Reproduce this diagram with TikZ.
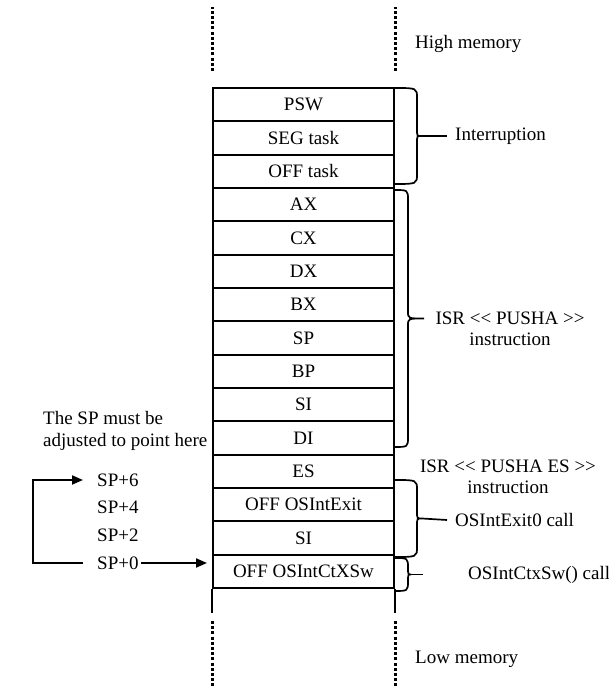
\documentclass[tikz,border=0pt]{standalone}
\usepackage{fontspec}
\setmainfont{Liberation Serif}
\usetikzlibrary{arrows.meta,calc,positioning}

% right-hand brace next to the stack: top, bottom, body x, tip x, tip name
\newcommand{\stackbrace}[5]{%
  \pgfmathsetmacro{\bmid}{(#1+#2)/2}
  \draw[bracepen] (394,#1) .. controls (#3,#1) .. (#3,#1-10)
    -- (#3,\bmid+7) .. controls (#3,\bmid) .. (#4,\bmid) coordinate (#5)
    .. controls (#3,\bmid) .. (#3,\bmid-7) -- (#3,#2+10)
    .. controls (#3,#2) .. (394,#2);
}

\begin{document}
\begin{tikzpicture}[x=1pt,y=1pt,>={Triangle[length=11pt,width=9pt]},
  every node/.style={font=\fontsize{19}{21.5}\selectfont,inner sep=2pt},
  cell/.style={draw,line width=2pt,minimum width=181pt,minimum height=33.33pt,inner sep=0pt},
  bracepen/.style={line width=1.7pt},
  memdots/.style={line width=3pt,dash pattern=on 3pt off 2.2pt},
  wire/.style={line width=2pt}]
  \useasboundingbox (0,0) rectangle (609,687);

  % the stack
  \foreach \lbl [count=\i] in {PSW,SEG task,OFF task,AX,CX,DX,BX,SP,BP,SI,DI,ES,OFF OSIntExit,SI,OFF OSIntCtXSw}
    \node[cell] (c\i) at (303.5,{599-16.667-(\i-1)*33.333}) {\lbl};
  \draw[wire] (c15.south west) -- ++(0,-24);
  \draw[wire] (c15.south east) -- ++(0,-24);
  \draw[memdots] ([yshift=16]c1.north west) -- ++(0,64);
  \draw[memdots] ([yshift=16]c1.north east) -- ++(0,64);
  \draw[memdots] ([yshift=-32]c15.south west) -- ++(0,-67);
  \draw[memdots] ([yshift=-32]c15.south east) -- ++(0,-67);

  \node[anchor=west] (high) at (413,643) {High memory};
  \node[anchor=west] (low) at (413,28) {Low memory};

  % braces
  \stackbrace{599}{503}{417}{421}{tint}
  \coordinate (eint) at (447,551);
  \draw[bracepen] (tint) -- (eint);
  \node[anchor=west] (intr) at (453,551) {Interruption};

  \stackbrace{497}{240}{408}{424}{tisr}
  \node[align=center] (isr) at (510,358) {ISR <\kern0pt< PUSHA >\kern0pt>\\instruction};
  \node[align=center] (isres) at (508,210) {ISR <\kern0pt< PUSHA ES >\kern0pt>\\instruction};

  \stackbrace{207}{130}{417}{422}{texit}
  \coordinate (eexit) at (447,167);
  \draw[bracepen] (texit) -- (eexit);
  \node[anchor=west] (exit) at (453,167) {OSIntExit0 call};

  \stackbrace{129}{96}{408}{411}{tctx}
  \coordinate (ectx) at (423,112.5);
  \draw[bracepen] (tctx) -- (ectx);
  \node[anchor=west] (ctx) at (466,112) {OSIntCtxSw() call};

  % stack pointer
  \node[anchor=west,align=left] (note) at (41,256) {The SP must be\\adjusted to point here};
  \node[anchor=west] (sp6) at (95,207) {SP+6};
  \node[anchor=west] (sp4) at (95,180) {SP+4};
  \node[anchor=west] (sp2) at (95,152) {SP+2};
  \node[anchor=west] (sp0) at (95,124) {SP+0};
  \draw[wire,->] ([xshift=-12]sp0.west) -- ++(-50,0) |- ([xshift=-12]sp6.west);
  \draw[wire,->,shorten >=5pt] (sp0.east) -- (sp0.east -| c15.west);
\end{tikzpicture}
\end{document}
